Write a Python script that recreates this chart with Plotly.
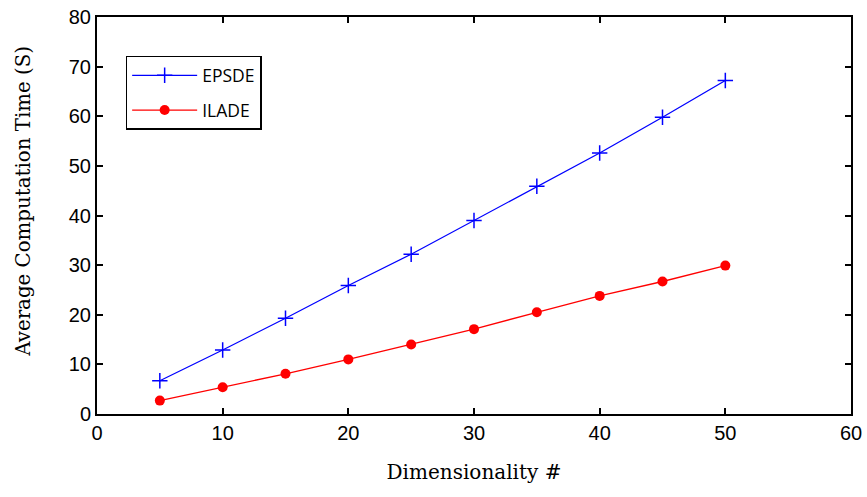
import plotly.graph_objects as go

dims = [5, 10, 15, 20, 25, 30, 35, 40, 45, 50]
epsde = [6.7, 12.9, 19.3, 25.9, 32.2, 39.0, 45.9, 52.6, 59.8, 67.2]
ilade = [2.7, 5.4, 8.1, 11.0, 14.0, 17.1, 20.5, 23.8, 26.7, 29.9]

fig = go.Figure()
fig.add_trace(go.Scatter(
    x=dims, y=epsde, name="EPSDE", mode="lines+markers", legendgroup="a",
    line=dict(color="#0000ff", width=1.3),
    marker=dict(symbol="cross-thin", size=11, line=dict(color="#0000ff", width=1.5), color="#0000ff"),
))
fig.add_trace(go.Scatter(
    x=dims, y=ilade, name="ILADE", mode="lines+markers", legendgroup="b",
    line=dict(color="#ff0000", width=1.3),
    marker=dict(symbol="circle", size=10, color="#ff0000"),
))

axis_common = dict(
    showline=True, linecolor="black", linewidth=2, mirror="ticks",
    ticks="inside", ticklen=6, tickwidth=2, tickcolor="black",
    showgrid=False, zeroline=False, automargin=False,
    tickfont=dict(family="Liberation Sans, Arial", size=20, color="black"),
)

title_font = dict(family="DejaVu Serif", size=20, color="black")

fig.update_layout(
    width=867, height=497,
    margin=dict(l=97, r=16, t=17, b=83),
    paper_bgcolor="white", plot_bgcolor="white",
    xaxis=dict(range=[0, 60], dtick=10,
               title=dict(text="Dimensionality #", font=title_font, standoff=22),
               **axis_common),
    yaxis=dict(range=[0, 80], dtick=10, **axis_common),
    legend=dict(
        x=0.038, y=0.902, xanchor="left", yanchor="top",
        bgcolor="white", bordercolor="black", borderwidth=1.5,
        font=dict(family="Open Sans, Noto Sans", size=17.5, color="black"),
        traceorder="grouped", tracegroupgap=9, itemwidth=65,
    ),
    showlegend=True,
    annotations=[dict(
        text="Average Computation Time (S)", textangle=-90,
        xref="paper", yref="paper", x=-0.098, y=0.535,
        xanchor="center", yanchor="middle", showarrow=False,
        font=dict(family="DejaVu Serif", size=19.8, color="black"),
    )],
)

fig.write_html("out.html", post_script="document.body.style.margin='0';",
               config={"displayModeBar": False})
